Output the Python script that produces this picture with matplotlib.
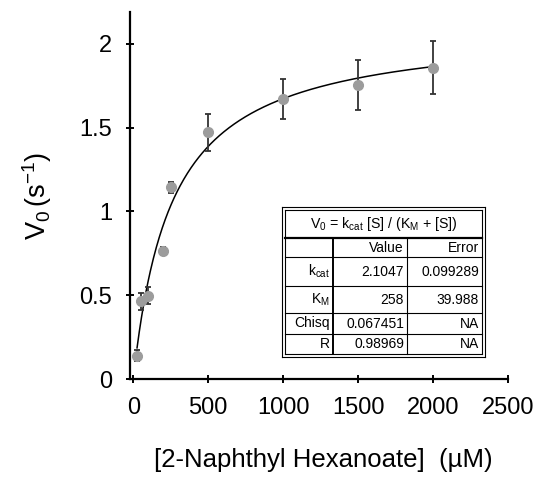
import numpy as np
import matplotlib
matplotlib.use("Agg")
import matplotlib.pyplot as plt
from matplotlib.lines import Line2D

plt.rcParams["font.family"] = ["Liberation Sans", "DejaVu Sans"]
plt.rcParams["mathtext.fontset"] = "custom"
plt.rcParams["mathtext.rm"] = "Liberation Sans"
plt.rcParams["mathtext.it"] = "Liberation Sans"

# substrate concentration (uM), initial rate (1/s) and its error
conc = [25, 50, 100, 200, 250, 500, 1000, 1500, 2000]
rate = [0.14, 0.464, 0.497, 0.765, 1.143, 1.471, 1.673, 1.755, 1.856]
rate_err = [0.035, 0.052, 0.052, 0.025, 0.033, 0.112, 0.12, 0.148, 0.158]

# Michaelis-Menten fit results
KCAT = 2.1047
KCAT_ERR = 0.099289
KM = 258
KM_ERR = 39.988
CHISQ = 0.067451
R = 0.98969

W, H = 539, 478
fig = plt.figure(figsize=(W / 100, H / 100), dpi=100)
ax = fig.add_axes([130 / W, 1 - 379 / H, 378 / W, 367 / H])


# figure-pixel helpers (origin top-left)
def fx(x):
    return x / W


def fy(y):
    return 1 - y / H


s = np.linspace(min(conc), max(conc), 400)
ax.plot(s, KCAT * s / (KM + s), color="black", lw=1.1, zorder=2)
ax.errorbar(conc, rate, yerr=rate_err, fmt="none", ecolor="#333333",
            elinewidth=1.3, capsize=2.2, capthick=1.3, zorder=3)
ax.plot(conc, rate, "o", color="#9c9c9c", ms=7, mec="#9c9c9c", zorder=4)

ax.set_xlim(-22, 2500)
ax.set_ylim(0, 2.19)
ax.set_xticks([0, 500, 1000, 1500, 2000, 2500])
ax.set_yticks([0, 0.5, 1, 1.5, 2])
ax.set_yticklabels(["0", "0.5", "1", "1.5", "2"])
for side in ("top", "right"):
    ax.spines[side].set_visible(False)
for side in ("left", "bottom"):
    ax.spines[side].set_linewidth(1.6)
ax.tick_params(direction="inout", length=6, width=1.4, labelsize=17)
ax.tick_params(axis="y", pad=10)
ax.tick_params(axis="x", pad=10)

ax.set_xlabel("[2-Naphthyl Hexanoate]  (µM)", fontsize=18.5)
ax.xaxis.label.set_verticalalignment("top")
ax.xaxis.set_label_coords(fx(323), fy(448), transform=fig.transFigure)
ax.set_ylabel(r"V$_0$$\,$(s$^{-1}$)", fontsize=19.5, labelpad=18)


# fit results table
def hline(x0, x1, y, lw=0.8):
    fig.add_artist(Line2D([fx(x0), fx(x1)], [fy(y), fy(y)], color="black",
                          lw=lw, transform=fig.transFigure))


def vline(x, y0, y1, lw=0.8):
    fig.add_artist(Line2D([fx(x), fx(x)], [fy(y0), fy(y1)], color="black",
                          lw=lw, transform=fig.transFigure))


def cell_text(x, y, txt, ha="right", size=10):
    fig.text(fx(x), fy(y), txt, ha=ha, va="center", fontsize=size)


L, Rt, T, B = 282, 485, 207, 357
Li, Ri, Ti, Bi = 285, 482, 210, 354
hline(L, Rt, T); hline(L, Rt, B); vline(L, T, B); vline(Rt, T, B)
hline(Li, Ri, Ti); hline(Li, Ri, Bi); vline(Li, Ti, Bi); vline(Ri, Ti, Bi)

c1, c2 = 333, 407
rows = [238, 257, 286, 313, 334]
hline(Li, Ri, rows[0], lw=1.6)
for y in rows[1:]:
    hline(Li, Ri, y)
vline(c1, rows[0], Bi, lw=1.4)
vline(c2, rows[0], Bi)

cell_text((Li + Ri) / 2, (Ti + rows[0]) / 2,
          r"V$_0$ = k$_{\rm cat}$ [S] / (K$_{\rm M}$ + [S])",
          ha="center", size=10.2)
labels = ["", r"k$_{\rm cat}$", r"K$_{\rm M}$", "Chisq", "R"]
values = ["Value", f"{KCAT:.4f}", f"{KM}", f"{CHISQ}", f"{R}"]
errors = ["Error", f"{KCAT_ERR}", f"{KM_ERR}", "NA", "NA"]
bounds = rows + [Bi]
for i in range(5):
    yc = (bounds[i] + bounds[i + 1]) / 2
    cell_text(c1 - 3, yc, labels[i])
    cell_text(c2 - 3, yc, values[i])
    cell_text(Ri - 3, yc, errors[i])

fig.savefig("out.png", dpi=100)
